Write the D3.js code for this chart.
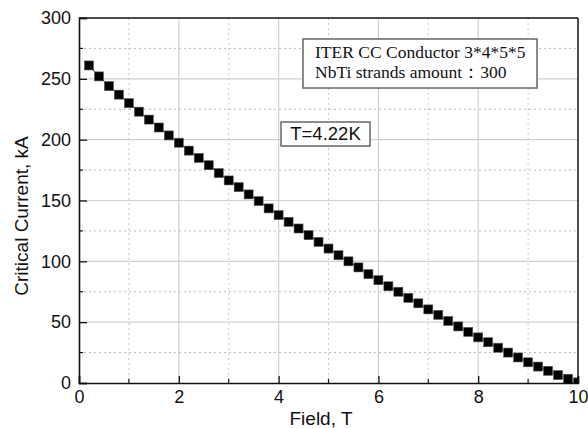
<!DOCTYPE html>
<html><head><meta charset="utf-8">
<script src="https://cdn.jsdelivr.net/npm/d3@7"></script>
<style>body{margin:0;background:#fff}svg{display:block}</style>
</head><body>
<svg id="c" width="588" height="428"></svg>
<script>
const fieldT = [0.2,0.4,0.6,0.8,1.0,1.2,1.4,1.6,1.8,2.0,2.2,2.4,2.6,2.8,3.0,3.2,3.4,3.6,3.8,4.0,4.2,4.4,4.6,4.8,5.0,5.2,5.4,5.6,5.8,6.0,6.2,6.4,6.6,6.8,7.0,7.2,7.4,7.6,7.8,8.0,8.2,8.4,8.6,8.8,9.0,9.2,9.4,9.6,9.8,10.0];
const currentKA = [261,252,244,237,230,223,216.5,210,203.5,197.5,191,185,179,172.5,166.5,161,155,149.5,143.5,138,132.5,127,121.5,116,110.5,105,100,95,89.5,84.5,79.5,75,70,65.5,60.5,56,51,46.5,42,37.5,33.5,29,25,21,17,13.5,10,6.5,3.5,0.5];
const xMajorTicks = [0,2,4,6,8,10];
const xMinorTicks = [1,3,5,7,9];
const yMajorTicks = [0,50,100,150,200,250,300];
const yMinorTicks = [25,75,125,175,225,275];
const legendLines = ["ITER CC Conductor 3*4*5*5","NbTi strands amount\uFF1A300"];
const tempLabel = "T=4.22K";
const xTitle = "Field, T";
const yTitle = "Critical Current, kA";

const L=79,R=578,T=18,B=383;
const svg=d3.select("#c");
const x=d3.scaleLinear().domain([0,10]).range([L,R]);
const y=d3.scaleLinear().domain([0,300]).range([B,T]);

// grid
const g=svg.append("g");
g.selectAll(".gxM").data(xMajorTicks.filter(d=>d>0&&d<10)).join("line")
 .attr("x1",d=>x(d)).attr("x2",d=>x(d)).attr("y1",T).attr("y2",B)
 .attr("stroke","#d0d0d0").attr("stroke-width",1.2);
g.selectAll(".gyM").data(yMajorTicks.filter(d=>d>0&&d<300)).join("line")
 .attr("y1",d=>y(d)).attr("y2",d=>y(d)).attr("x1",L).attr("x2",R)
 .attr("stroke","#d0d0d0").attr("stroke-width",1.2);
g.selectAll(".gxm").data(xMinorTicks).join("line")
 .attr("x1",d=>x(d)).attr("x2",d=>x(d)).attr("y1",T).attr("y2",B)
 .attr("stroke","#c8c8c8").attr("stroke-width",1).attr("stroke-dasharray","2,3");
g.selectAll(".gym").data(yMinorTicks).join("line")
 .attr("y1",d=>y(d)).attr("y2",d=>y(d)).attr("x1",L).attr("x2",R)
 .attr("stroke","#b8b8b8").attr("stroke-width",1).attr("stroke-dasharray","2,3");

// clip
svg.append("clipPath").attr("id","pc").append("rect").attr("x",L).attr("y",T).attr("width",R-L).attr("height",B-T);

const pts=fieldT.map((f,i)=>[f,currentKA[i]]);
const dg=svg.append("g").attr("clip-path","url(#pc)");
dg.append("path").datum(pts).attr("fill","none").attr("stroke","#333").attr("stroke-width",1)
 .attr("d",d3.line().x(d=>x(d[0])).y(d=>y(d[1])));
const s=9;
dg.selectAll("rect.m").data(pts).join("rect").attr("class","m")
 .attr("x",d=>x(d[0])-s/2).attr("y",d=>y(d[1])-s/2).attr("width",s).attr("height",s)
 .attr("fill","#000").attr("stroke","#555").attr("stroke-width",0.6);

// frame
svg.append("line").attr("x1",L).attr("x2",R).attr("y1",T).attr("y2",T).attr("stroke","#111").attr("stroke-width",1.5);
svg.append("line").attr("x1",R).attr("x2",R).attr("y1",T).attr("y2",B).attr("stroke","#111").attr("stroke-width",1.5);

// axes
const xAx=d3.axisBottom(x).tickValues(xMajorTicks).tickSize(-7).tickPadding(13).tickFormat(d3.format("d"));
const xg=svg.append("g").attr("transform",`translate(0,${B})`).call(xAx);
const yAx=d3.axisLeft(y).tickValues(yMajorTicks).tickSize(-8).tickPadding(8).tickFormat(d3.format("d"));
const yg=svg.append("g").attr("transform",`translate(${L},0)`).call(yAx);
[xg,yg].forEach(a=>{
  a.select(".domain").attr("stroke","#111").attr("stroke-width",1.6);
  a.selectAll(".tick line").attr("stroke","#111").attr("stroke-width",1.3);
  a.selectAll(".tick text").attr("fill","#111").style("font-family","'Liberation Sans',Arial,sans-serif").style("font-size","18px");
});
xg.selectAll(".tick text").attr("dy","0.71em").attr("y",7);
svg.append("g").selectAll("line").data(xMinorTicks).join("line")
 .attr("x1",d=>x(d)).attr("x2",d=>x(d)).attr("y1",B).attr("y2",B-4).attr("stroke","#111").attr("stroke-width",1.2);
svg.append("g").selectAll("line").data(yMinorTicks).join("line")
 .attr("x1",L).attr("x2",L+4).attr("y1",d=>y(d)).attr("y2",d=>y(d)).attr("stroke","#111").attr("stroke-width",1.2);

// titles
svg.append("text").attr("x",321).attr("y",425).attr("text-anchor","middle")
 .style("font-family","'Liberation Sans',Arial,sans-serif").style("font-size","19px").attr("fill","#111").text(xTitle);
svg.append("text").attr("transform","translate(28,216) rotate(-90)").attr("text-anchor","middle")
 .style("font-family","'Liberation Sans',Arial,sans-serif").style("font-size","19px").attr("fill","#111").text(yTitle);

// legend box
svg.append("rect").attr("x",303).attr("y",39).attr("width",234).attr("height",49)
 .attr("fill","#fff").attr("stroke","#666").attr("stroke-width",1.5);
svg.append("g").selectAll("text").data(legendLines).join("text")
 .attr("x",315).attr("y",(d,i)=>58+i*20)
 .style("font-family","'Liberation Serif','Times New Roman',serif").style("font-size","17.5px").attr("fill","#111").text(d=>d);

// temperature label
svg.append("rect").attr("x",281).attr("y",122).attr("width",89).attr("height",24)
 .attr("fill","#fff").attr("stroke","#666").attr("stroke-width",1.5);
svg.append("text").attr("x",325.5).attr("y",139.5).attr("text-anchor","middle")
 .style("font-family","'Liberation Sans',Arial,sans-serif").style("font-size","18.5px").attr("fill","#111").text(tempLabel);
</script>
</body></html>
